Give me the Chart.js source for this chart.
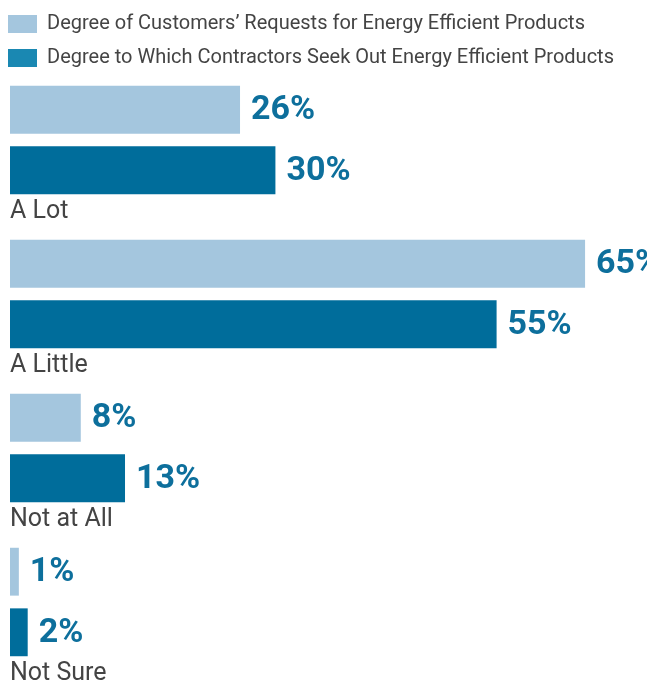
<!DOCTYPE html>
<html>
<head>
<meta charset="utf-8">
<script src="https://cdn.jsdelivr.net/npm/chart.js@4"></script>
<style>
  html, body { margin: 0; padding: 0; background: #fff; }
  #wrap { width: 647px; height: 685px; }
</style>
</head>
<body>
<div id="wrap"><canvas id="chart"></canvas></div>
<script>
// Data
const categories = ['A Lot', 'A Little', 'Not at All', 'Not Sure'];
const customerRequests = [26, 65, 8, 1];
const contractorsSeek = [30, 55, 13, 2];
const seriesNames = [
    'Degree of Customers\u2019 Requests for Energy Efficient Products',
    'Degree to Which Contractors Seek Out Energy Efficient Products'
];

const lightBlue = '#a4c6de';
const darkBlue = '#006d9b';
const legendDark = '#1a88b2';
const labelBlue = '#0d6f9c';
const textGrey = '#444444';

const LEGEND_SHRINK = 15;

// value labels and category names under each group
const labelPlugin = {
    id: 'barLabels',
    afterDatasetsDraw(chart) {
        const ctx = chart.ctx;
        ctx.save();
        ctx.font = 'bold 34px Roboto';
        ctx.fillStyle = labelBlue;
        ctx.textBaseline = 'middle';
        ctx.textAlign = 'left';
        chart.data.datasets.forEach((ds, i) => {
            chart.getDatasetMeta(i).data.forEach((bar, j) => {
                ctx.fillText(ds.data[j] + '%', bar.x + 11, bar.y + 1);
            });
        });
        ctx.font = '25px Roboto';
        ctx.fillStyle = textGrey;
        ctx.textBaseline = 'alphabetic';
        const last = chart.getDatasetMeta(chart.data.datasets.length - 1).data;
        chart.data.labels.forEach((lab, j) => {
            const bar = last[j];
            ctx.fillText(lab, chart.chartArea.left, bar.y + bar.height / 2 + 24);
        });
        ctx.restore();
    }
};

// pull the plot up closer to the legend, and the legend to the left edge
const legendFit = {
    id: 'legendFit',
    beforeInit(chart) {
        const fit = chart.legend.fit;
        chart.legend.fit = function() {
            fit.bind(chart.legend)();
            this.height -= LEGEND_SHRINK;
        };
    },
    afterLayout(chart) {
        const lg = chart.legend;
        lg.bottom += LEGEND_SHRINK;
        lg.height += LEGEND_SHRINK;
        lg.left -= 16;
        lg.right -= 16;
    }
};

const ctx = document.getElementById('chart').getContext('2d');
new Chart(ctx, {
    type: 'bar',
    data: {
        labels: categories,
        datasets: [
            { label: seriesNames[0], data: customerRequests, backgroundColor: lightBlue },
            { label: seriesNames[1], data: contractorsSeek, backgroundColor: darkBlue }
        ]
    },
    options: {
        indexAxis: 'y',
        responsive: true,
        maintainAspectRatio: false,
        animation: false,
        categoryPercentage: 0.787,
        barPercentage: 0.79,
        layout: { padding: { left: 10, right: 0, top: 0, bottom: 6 } },
        scales: {
            x: { display: false, min: 0, max: 72 },
            y: { display: false }
        },
        plugins: {
            tooltip: { enabled: false },
            legend: {
                position: 'top',
                align: 'start',
                labels: {
                    boxWidth: 29,
                    boxHeight: 18,
                    padding: 14,
                    color: textGrey,
                    font: { family: 'Roboto', size: 20 },
                    generateLabels(chart) {
                        const items = Chart.defaults.plugins.legend.labels.generateLabels(chart);
                        items.forEach((it, i) => {
                            it.fillStyle = i === 1 ? legendDark : lightBlue;
                            it.lineWidth = 0;
                            it.strokeStyle = 'transparent';
                        });
                        return items;
                    }
                }
            }
        }
    },
    plugins: [labelPlugin, legendFit]
});
</script>
</body>
</html>
